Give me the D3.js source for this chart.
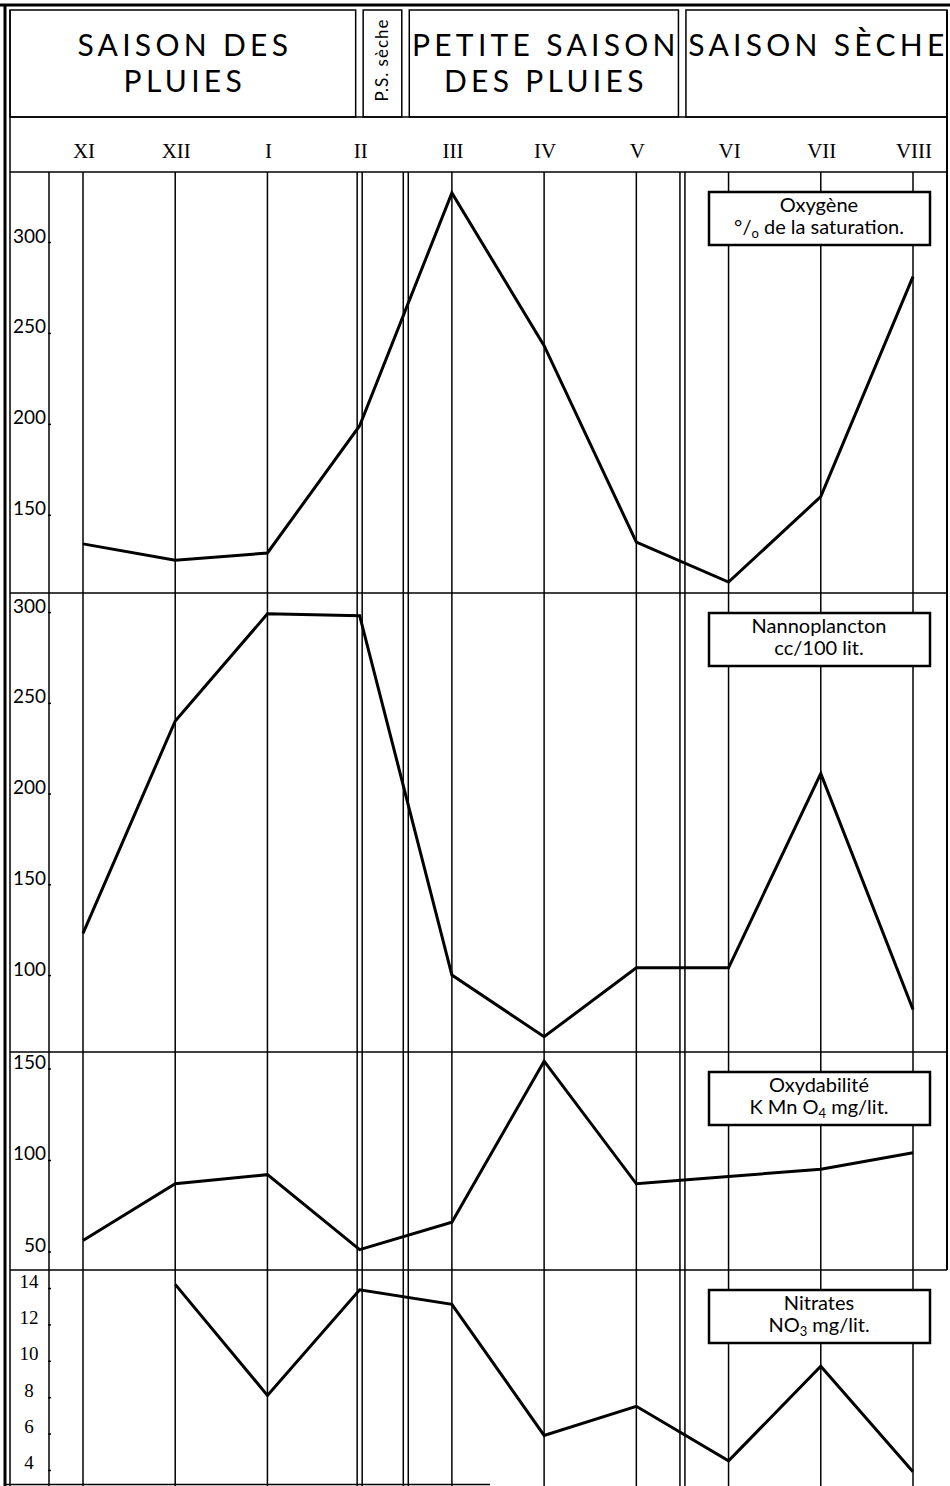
<!DOCTYPE html>
<html>
<head>
<meta charset="utf-8">
<script src="https://cdn.jsdelivr.net/npm/d3@7"></script>
<style>
  body { margin: 0; background: #fff; }
  svg { display: block; }
</style>
</head>
<body>
<div id="chart"></div>
<script>
// months of the year (Nov -> Aug)
const months = ["XI", "XII", "I", "II", "III", "IV", "V", "VI", "VII", "VIII"]

// series
const oxygene = [134, 125, 129, 199, 327, 243, 135, 113, 160, 281]
const nannoplancton = [123, 240, 299, 298, 100, 66, 104, 104, 211, 81]
const oxydabilite = [56, 87, 92, 51, 66, 154, 87, 91, 95, 104]
const nitrates = [null, 14.2, 8.1, 13.9, 13.1, 5.9, 7.5, 4.5, 9.7, 3.9]

// tick labels per panel
const oxygeneTicks = [150, 200, 250, 300]
const nannoTicks = [100, 150, 200, 250, 300]
const oxydTicks = [50, 100, 150]
const nitratesTicks = [4, 6, 8, 10, 12, 14]

// seasons (breaks in month-index units)
const seasonNames = [["SAISON DES", "PLUIES"], ["P.S. sèche"], ["PETITE SAISON", "DES PLUIES"], ["SAISON SÈCHE"]]
const seasonBreaks = [3, 3.5, 6.5]

// legend boxes
const legendOxygene = [[{ t: "Oxygène" }], [{ t: "°/" }, { t: "o", sub: true }, { t: " de la saturation." }]]
const legendNanno = [[{ t: "Nannoplancton" }], [{ t: "cc/100 lit." }]]
const legendOxyd = [[{ t: "Oxydabilité" }], [{ t: "K Mn O" }, { t: "4", sub: true }, { t: "  mg/lit." }]]
const legendNitrates = [[{ t: "Nitrates" }], [{ t: "NO" }, { t: "3", sub: true }, { t: " mg/lit." }]]

const WIDTH = 950
const HEIGHT = 1486
const LEFT = 10
const RIGHT = 947
const AXIS_X = 49
const HEADER_BOTTOM = 117
const PANEL_EDGES = [172, 593, 1052, 1270, 1486]
const SANS = "Lato, 'Open Sans', sans-serif"
const SERIF = "'Liberation Serif', 'DejaVu Serif', serif"

const panels = [
  { values: oxygene, ticks: oxygeneTicks, domain: [107, 338.5], legend: legendOxygene },
  { values: nannoplancton, ticks: nannoTicks, domain: [57.6, 310.5], legend: legendNanno },
  { values: oxydabilite, ticks: oxydTicks, domain: [39.9, 159], legend: legendOxyd },
  { values: nitrates, ticks: nitratesTicks, domain: [3.12, 14.99], legend: legendNitrates, centered: true }
]

const svg = d3.select("#chart").append("svg")
  .attr("width", WIDTH)
  .attr("height", HEIGHT)

const x = d3.scalePoint()
  .domain(months)
  .range([83, 913])

const xi = d3.scaleLinear()
  .domain([0, months.length - 1])
  .range([83, 913])

const frame = svg.append("g")
  .attr("stroke", "#000")
  .attr("fill", "none")

// outer frame
frame.append("line").attr("x1", 0).attr("x2", WIDTH).attr("y1", 5).attr("y2", 5).attr("stroke-width", 3)
frame.append("line").attr("x1", 5).attr("x2", 5).attr("y1", 4).attr("y2", HEIGHT).attr("stroke-width", 3)
frame.append("line").attr("x1", LEFT).attr("x2", LEFT).attr("y1", 10).attr("y2", HEIGHT).attr("stroke-width", 1.5)
frame.append("line").attr("x1", RIGHT).attr("x2", RIGHT).attr("y1", 10).attr("y2", PANEL_EDGES[3]).attr("stroke-width", 2)
frame.append("line").attr("x1", 5).attr("x2", 490).attr("y1", HEIGHT - 1.5).attr("y2", HEIGHT - 1.5).attr("stroke-width", 1.5)

// season header boxes
const boxEdges = [LEFT]
seasonBreaks.forEach(b => { boxEdges.push(xi(b) - 4, xi(b) + 3.5) })
boxEdges.push(RIGHT)

const header = svg.append("g")
seasonNames.forEach((lines, i) => {
  const x0 = boxEdges[i * 2]
  const x1 = boxEdges[i * 2 + 1]
  header.append("rect")
    .attr("x", x0).attr("y", 10)
    .attr("width", x1 - x0).attr("height", HEADER_BOTTOM - 10)
    .attr("fill", "none").attr("stroke", "#000").attr("stroke-width", 1.5)
  const cx = (x0 + x1) / 2
  if (x1 - x0 < 60) {
    // narrow "P.S. sèche" box, vertical text
    header.append("text")
      .attr("transform", `translate(${cx + 6}, 60) rotate(-90)`)
      .attr("text-anchor", "middle")
      .attr("font-family", SANS)
      .attr("font-size", 17)
      .attr("letter-spacing", 1)
      .text(lines[0])
  } else {
    lines.forEach((s, j) => {
      header.append("text")
        .attr("x", cx + 2)
        .attr("y", 56 + j * 36)
        .attr("text-anchor", "middle")
        .attr("font-family", SANS)
        .attr("font-size", 30)
        .attr("letter-spacing", 4.3)
        .text(s)
    })
  }
})

// month labels
svg.append("g").selectAll("text")
  .data(months)
  .join("text")
    .attr("x", d => x(d) + 1)
    .attr("y", 158)
    .attr("text-anchor", "middle")
    .attr("font-family", SERIF)
    .attr("font-size", 21)
    .text(d => d)

// grid: month verticals, season double lines, axis line, panel separators
const grid = svg.append("g")
  .attr("stroke", "#000")
  .attr("stroke-width", 1.5)

grid.selectAll(".month")
  .data(months.filter((m, i) => !seasonBreaks.includes(i)))
  .join("line")
    .attr("x1", d => x(d)).attr("x2", d => x(d))
    .attr("y1", PANEL_EDGES[0]).attr("y2", HEIGHT)

seasonBreaks.forEach(b => {
  [-2.5, 2.5].forEach(off => {
    grid.append("line")
      .attr("x1", xi(b) + off).attr("x2", xi(b) + off)
      .attr("y1", PANEL_EDGES[0]).attr("y2", HEIGHT)
  })
})

grid.append("line")
  .attr("x1", AXIS_X).attr("x2", AXIS_X)
  .attr("y1", PANEL_EDGES[0]).attr("y2", HEIGHT)

grid.selectAll(".sep")
  .data([HEADER_BOTTOM].concat(PANEL_EDGES.slice(0, 4)))
  .join("line")
    .attr("x1", LEFT).attr("x2", RIGHT)
    .attr("y1", d => d).attr("y2", d => d)

// panels
const line = d3.line()
  .defined(d => d.v != null)
  .x(d => x(d.m))
  .y(d => d.y)

panels.forEach((p, k) => {
  const top = PANEL_EDGES[k]
  const bottom = PANEL_EDGES[k + 1]

  const y = d3.scaleLinear()
    .domain(p.domain)
    .range([bottom, top])

  const axis = d3.axisRight(y)
    .tickValues(p.ticks)
    .tickSize(3)
    .tickFormat(d3.format("d"))

  const gAxis = svg.append("g")
    .attr("transform", `translate(${AXIS_X - 1},0)`)
    .call(axis)

  gAxis.select(".domain").remove()
  gAxis.selectAll(".tick line").attr("stroke-width", 1.5)
  gAxis.selectAll(".tick text")
    .attr("x", p.centered ? -19 : -2)
    .attr("dy", p.centered ? -1 : 0)
    .attr("text-anchor", p.centered ? "middle" : "end")
    .attr("fill", "#000")
    .attr("font-family", p.centered ? SERIF : SANS)
    .attr("font-size", p.centered ? 19 : 19)

  const pts = p.values.map((v, i) => ({ m: months[i], v: v, y: v == null ? 0 : y(v) }))

  svg.append("path")
    .datum(pts)
    .attr("fill", "none")
    .attr("stroke", "#000")
    .attr("stroke-width", 3)
    .attr("stroke-linejoin", "miter")
    .attr("d", line)

  // legend box
  const lg = svg.append("g")
    .attr("transform", `translate(709,${top + 20})`)

  lg.append("rect")
    .attr("width", 221).attr("height", 53)
    .attr("fill", "#fff")
    .attr("stroke", "#000")
    .attr("stroke-width", 2.5)

  p.legend.forEach((segs, j) => {
    const t = lg.append("text")
      .attr("x", 110)
      .attr("y", 20 + j * 22)
      .attr("text-anchor", "middle")
      .attr("font-family", SANS)
      .attr("font-size", 20)
    segs.forEach((s, n) => {
      const prevSub = n > 0 && segs[n - 1].sub
      t.append("tspan")
        .attr("dy", s.sub ? 4 : (prevSub ? -4 : 0))
        .attr("font-size", s.sub ? 13 : 20)
        .text(s.t)
    })
  })
})
</script>
</body>
</html>
